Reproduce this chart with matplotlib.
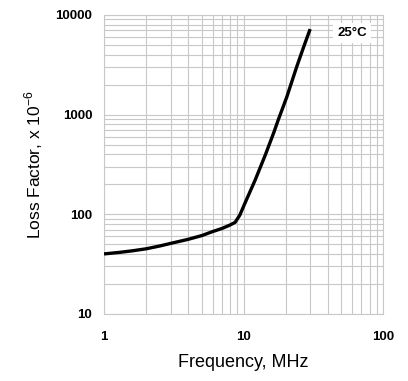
import numpy as np
import matplotlib.pyplot as plt
from matplotlib.ticker import FixedLocator, FixedFormatter, LogLocator, NullFormatter

plt.rcParams['font.family'] = ['Liberation Sans', 'DejaVu Sans']

# данные кривой (чтение с графика)
freq = [1, 1.3, 1.6, 2, 2.5, 3, 4, 5, 6, 7, 8, 8.7, 9.4, 10.2, 12.1, 14.3, 16.4, 17.7, 20.4, 24, 27, 30]
loss = [40, 41.5, 43, 45, 48, 51, 56, 61, 67, 72, 78, 83, 98, 128, 220, 392, 650, 880, 1500, 3000, 4800, 7200]

x_ticks = [1, 10, 100]
x_labels = ['1', '10', '100']
y_ticks = [10, 100, 1000, 10000]
y_labels = ['10', '100', '1000', '10000']

fig = plt.figure(figsize=(4.08, 3.81), dpi=100)
ax = fig.add_axes([0.255, 0.176, 0.684, 0.785])

ax.plot(freq, loss, color='black', linewidth=2.4, solid_capstyle='butt', zorder=3)

ax.set_xscale('log')
ax.set_yscale('log')
ax.set_xlim(1, 100)
ax.set_ylim(10, 10000)

ax.xaxis.set_major_locator(FixedLocator(x_ticks))
ax.xaxis.set_major_formatter(FixedFormatter(x_labels))
ax.yaxis.set_major_locator(FixedLocator(y_ticks))
ax.yaxis.set_major_formatter(FixedFormatter(y_labels))
ax.xaxis.set_minor_locator(LogLocator(base=10, subs=np.arange(2, 10)))
ax.yaxis.set_minor_locator(LogLocator(base=10, subs=np.arange(2, 10)))
ax.xaxis.set_minor_formatter(NullFormatter())
ax.yaxis.set_minor_formatter(NullFormatter())

ax.grid(which='both', color='#c8c8c8', linewidth=0.8)
ax.tick_params(which='both', length=0)
ax.tick_params(axis='x', pad=12, labelsize=9.5)
ax.tick_params(axis='y', pad=8.5, labelsize=9.5)
for lbl in ax.get_xticklabels() + ax.get_yticklabels():
    lbl.set_fontweight('bold')
for s in ax.spines.values():
    s.set_color('#c8c8c8')
    s.set_linewidth(0.8)

ax.set_xlabel('Frequency, MHz', fontsize=13, labelpad=8)
ax.set_ylabel('Loss Factor, x 10$^{\\mathregular{-6}}$', fontsize=12.5, labelpad=7.5)

ax.text(0.943, 0.94, '25°C', transform=ax.transAxes, ha='right', va='center',
        fontsize=9.5, fontweight='bold',
        bbox=dict(facecolor='white', edgecolor='none', pad=3), zorder=4)

plt.savefig('out.png', dpi=100)
